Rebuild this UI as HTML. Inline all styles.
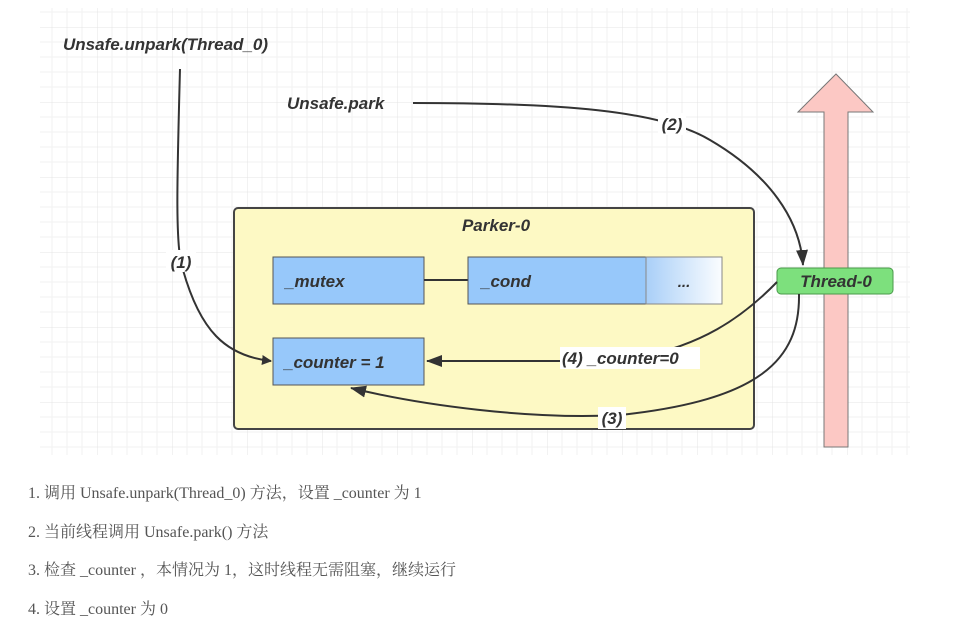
<!DOCTYPE html>
<html><head><meta charset="utf-8"><style>
html,body{margin:0;padding:0;background:#fff;width:960px;height:636px;overflow:hidden}
svg{position:absolute;left:0;top:0}
.t{font-family:"Liberation Sans","DejaVu Sans",sans-serif;font-style:italic;font-weight:bold;fill:#333}
.n{position:absolute;left:28px;font-family:"Liberation Serif","Noto Serif CJK SC",serif;font-size:16px;color:#555;white-space:nowrap}
</style></head><body>
<svg width="960" height="636" viewBox="0 0 960 636">
<defs>
<pattern id="g" x="22" y="27" width="75" height="75" patternUnits="userSpaceOnUse">
<path d="M15 0V75M30 0V75M45 0V75M60 0V75M0 15H75M0 30H75M0 45H75M0 60H75" stroke="#f2f2f2" stroke-width="1" fill="none"/>
<path d="M0 0V75M0 0H75" stroke="#e4e4e4" stroke-width="1" fill="none"/>
</pattern>
<linearGradient id="dg" x1="0" x2="1"><stop offset="0" stop-color="#a9cff8"/><stop offset="1" stop-color="#fbfdff"/></linearGradient>
<marker id="a" markerWidth="10" markerHeight="10" refX="9" refY="5" orient="auto" markerUnits="userSpaceOnUse"><path d="M0 0L10 5L0 10z" fill="#333"/></marker>
<marker id="b" markerWidth="16" markerHeight="12" refX="15" refY="6" orient="auto" markerUnits="userSpaceOnUse"><path d="M0 0L16 6L0 12z" fill="#333"/></marker>
</defs>
<rect x="40" y="8" width="870" height="447" fill="url(#g)"/>
<!-- pink arrow -->
<path d="M836 74L873 112H848V447H824V112H798Z" fill="#fcc8c4" stroke="#777" stroke-width="1"/>
<!-- parker box -->
<rect x="234" y="208" width="520" height="221" rx="4" fill="#fdf9c4" stroke="#444" stroke-width="2"/>
<text x="496" y="231" class="t" font-size="17" text-anchor="middle">Parker-0</text>
<rect x="273" y="257" width="151" height="47" fill="#97c8fa" stroke="#555"/>
<text x="285" y="287" class="t" font-size="17">_mutex</text>
<line x1="424" y1="280" x2="468" y2="280" stroke="#333" stroke-width="2"/>
<rect x="468" y="257" width="178" height="47" fill="#97c8fa" stroke="#555"/>
<text x="481" y="287" class="t" font-size="17">_cond</text>
<rect x="646" y="257" width="76" height="47" fill="url(#dg)" stroke="#888"/>
<text x="684" y="287" class="t" font-size="15" text-anchor="middle">...</text>
<rect x="273" y="338" width="151" height="47" fill="#97c8fa" stroke="#555"/>
<text x="284" y="368" class="t" font-size="17">_counter = 1</text>
<!-- thread -->
<rect x="777" y="268" width="116" height="26" rx="4" fill="#7de07d" stroke="#4a9a4a"/>
<text x="836" y="287" class="t" font-size="17" text-anchor="middle">Thread-0</text>
<!-- connectors -->
<path d="M180 69C177 180 175 250 183 270C200 330 225 356 271 361" fill="none" stroke="#333" stroke-width="2" marker-end="url(#a)"/>
<path d="M413 103C560 103 660 110 710 140C770 175 800 220 803 265" fill="none" stroke="#333" stroke-width="2" marker-end="url(#b)"/>
<path d="M777 282C740 320 700 345 640 357L560 357" fill="none" stroke="#333" stroke-width="2"/>
<line x1="560" y1="361" x2="427" y2="361" stroke="#333" stroke-width="2" marker-end="url(#b)"/>
<path d="M799 294C800 360 760 400 620 415C530 420 420 405 351 388" fill="none" stroke="#333" stroke-width="2" marker-end="url(#b)"/>
<!-- labels -->
<text x="63" y="50" class="t" font-size="17">Unsafe.unpark(Thread_0)</text>
<text x="287" y="109" class="t" font-size="17">Unsafe.park</text>
<rect x="658" y="113" width="28" height="22" fill="#fff"/>
<text x="672" y="130" class="t" font-size="17" text-anchor="middle">(2)</text>
<rect x="166" y="250" width="30" height="22" fill="#fff"/>
<text x="181" y="268" class="t" font-size="17" text-anchor="middle">(1)</text>
<rect x="560" y="347" width="140" height="22" fill="#fff"/>
<text x="562" y="364" class="t" font-size="17">(4) _counter=0</text>
<rect x="598" y="407" width="28" height="22" fill="#fff"/>
<text x="612" y="424" class="t" font-size="17" text-anchor="middle">(3)</text>
</svg>
<div class="n" style="top:480px">1. 调用 Unsafe.unpark(Thread_0) 方法，设置 _counter 为 1</div>
<div class="n" style="top:519px">2. 当前线程调用 Unsafe.park() 方法</div>
<div class="n" style="top:557px">3. 检查 _counter ，本情况为 1，这时线程无需阻塞，继续运行</div>
<div class="n" style="top:596px">4. 设置 _counter 为 0</div>
</body></html>
